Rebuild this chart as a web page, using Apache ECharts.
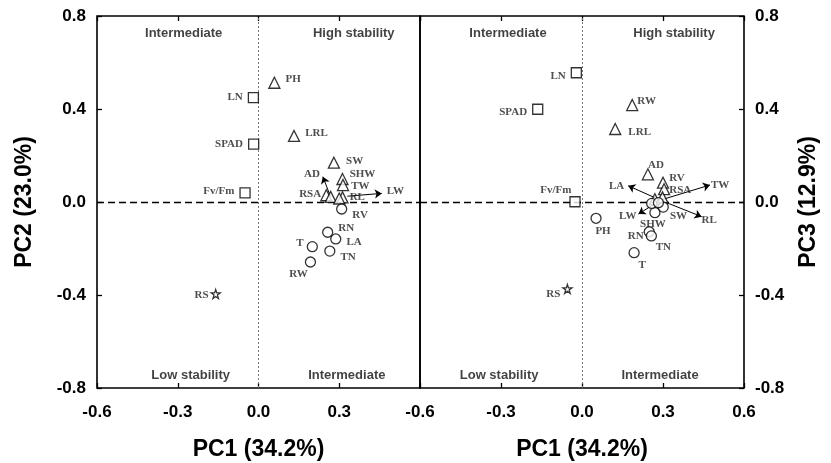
<!DOCTYPE html>
<html>
<head>
<meta charset="utf-8">
<script src="https://cdn.jsdelivr.net/npm/echarts@6/dist/echarts.min.js"></script>
<style>
  html, body { margin: 0; padding: 0; background: #fff; }
  #chart { width: 831px; height: 463px; }
</style>
</head>
<body>
<div id="chart"></div>
<script>
// Loadings: [name, PC1, PC2] for the left panel, [name, PC1, PC3] for the right panel
const pc12Squares   = [['LN', -0.019, 0.449], ['SPAD', -0.018, 0.249], ['Fv/Fm', -0.050, 0.039]];
const pc12Triangles = [['PH', 0.059, 0.513], ['LRL', 0.132, 0.284], ['SW', 0.280, 0.169], ['SHW', 0.312, 0.099],
                       ['TW', 0.314, 0.073], ['RSA', 0.252, 0.029], ['AD', 0.268, 0.022], ['RL', 0.312, 0.020],
                       ['LW', 0.300, 0.015]];
const pc12Circles   = [['RV', 0.309, -0.030], ['RN', 0.257, -0.130], ['LA', 0.287, -0.159], ['T', 0.200, -0.192],
                       ['TN', 0.265, -0.211], ['RW', 0.193, -0.258]];
const pc12Stars     = [['RS', -0.159, -0.396]];
// [name, fromX, fromY, toX, toY]
const pc12Arrows    = [['AD', 0.268, 0.022, 0.239, 0.109], ['LW', 0.330, 0.025, 0.458, 0.037]];

const pc13Squares   = [['LN', -0.021, 0.556], ['SPAD', -0.164, 0.399], ['Fv/Fm', -0.026, 0.001]];
const pc13Triangles = [['RW', 0.186, 0.417], ['LRL', 0.123, 0.314], ['AD', 0.244, 0.119], ['RV', 0.300, 0.083],
                       ['RSA', 0.304, 0.055], ['LA', 0.270, 0.012], ['TW', 0.298, 0.020]];
const pc13Circles   = [['PH', 0.052, -0.070], ['RN', 0.249, -0.128], ['TN', 0.257, -0.146], ['T', 0.193, -0.218],
                       ['SHW', 0.270, -0.046], ['SW', 0.301, -0.022], ['LW', 0.258, -0.006], ['RL', 0.283, -0.003]];
const pc13Stars     = [['RS', -0.054, -0.374]];
const pc13Arrows    = [['LA', 0.290, 0.008, 0.171, 0.070], ['TW', 0.290, 0.008, 0.474, 0.073],
                       ['LW', 0.290, 0.008, 0.209, -0.052], ['RL', 0.290, 0.008, 0.443, -0.063]];

// Quadrant captions: [text, x, y]
const pc12Quadrants = [['Intermediate', -0.278, 0.724], ['High stability', 0.354, 0.724],
                       ['Low stability', -0.252, -0.748], ['Intermediate', 0.328, -0.748]];
const pc13Quadrants = [['Intermediate', -0.274, 0.724], ['High stability', 0.341, 0.724],
                       ['Low stability', -0.307, -0.748], ['Intermediate', 0.289, -0.748]];

const xTicks = { min: -0.6, max: 0.6, interval: 0.3 };
const yTicks = { min: -0.8, max: 0.8, interval: 0.4 };
const xTitle = 'PC1 (34.2%)';
const yTitleLeft = 'PC2 (23.0%)';
const yTitleRight = 'PC3 (12.9%)';

// Label placement per panel: [position, offset]
const place12 = {
  'PH': ['right', [0, -4]], 'LN': ['left', [0, 0]], 'LRL': ['right', [0, -3]], 'SPAD': ['left', [0, 0]],
  'SW': ['right', [1, -2]], 'SHW': ['right', [-4, -5]], 'TW': ['right', [-3, 1]], 'Fv/Fm': ['left', [0, -2]],
  'RSA': ['left', [6, -1]], 'RL': ['right', [-4, 0]], 'RV': ['right', [0, 6]], 'RN': ['right', [0, -4]],
  'LA': ['right', [0, 3]], 'T': ['left', [2, -3]], 'TN': ['right', [0, 6]], 'RW': ['bottom', [-12, -4]],
  'RS': ['left', [3, 1]], 'AD': ['left', [2, -3]], 'LW': ['right', [0, -2]]
};
const place13 = {
  'LN': ['left', [0, 3]], 'SPAD': ['left', [0, 3]], 'RW': ['right', [-6, -4]], 'LRL': ['right', [2, 3]],
  'AD': ['top', [8, 7]], 'RV': ['right', [-5, -5]], 'RSA': ['right', [-6, 1]], 'Fv/Fm': ['left', [7, -12]],
  'PH': ['bottom', [7, -3]], 'SW': ['right', [-4, 9]], 'SHW': ['bottom', [-2, -5]], 'RN': ['left', [5, 4]],
  'TN': ['bottom', [12, -5]], 'T': ['bottom', [8, -4]], 'RS': ['left', [3, 5]],
  'LA': ['left', [1, 0]], 'TW': ['right', [-4, 0]], 'LW': ['left', [3, 2]], 'RL': ['right', [-5, 4]]
};

const STAR = 'path://M50,2 L61,36 L97,36 L68,57 L79,92 L50,71 L21,92 L32,57 L3,36 L39,36 Z';
const labelFont = { fontFamily: "'Liberation Serif', 'Times New Roman', serif", fontWeight: 'bold', fontSize: 11, color: '#222' };
const axisFont = { fontFamily: "'Liberation Sans', Arial, sans-serif", fontWeight: 'bold', color: '#000' };

function pointSeries(rows, symbol, size, axisIdx, place, arrowNames) {
  return {
    type: 'scatter',
    xAxisIndex: axisIdx.x, yAxisIndex: axisIdx.y,
    symbol: symbol, symbolSize: size,
    itemStyle: { color: '#fff', borderColor: '#000', borderWidth: 1.3 },
    z: 5,
    data: rows.map(r => {
      const p = place[r[0]] || ['right', [0, 0]];
      return {
        name: r[0], value: [r[1], r[2]],
        label: {
          show: arrowNames.indexOf(r[0]) < 0,
          formatter: r[0], position: p[0], offset: p[1], ...labelFont
        }
      };
    })
  };
}

function arrowSeries(rows, axisIdx, place) {
  return [{
    type: 'lines',
    coordinateSystem: 'cartesian2d',
    xAxisIndex: axisIdx.x, yAxisIndex: axisIdx.y,
    symbol: ['none', 'arrow'], symbolSize: [0, 7],
    lineStyle: { color: '#000', width: 1, opacity: 1 },
    z: 4,
    data: rows.map(r => ({ coords: [[r[1], r[2]], [r[3], r[4]]] }))
  }, {
    type: 'scatter',
    xAxisIndex: axisIdx.x, yAxisIndex: axisIdx.y,
    symbolSize: 0, silent: true, z: 6,
    data: rows.map(r => {
      const p = place[r[0]];
      return { value: [r[3], r[4]], label: { show: true, formatter: r[0], position: p[0], offset: p[1], ...labelFont } };
    })
  }];
}

function quadrantSeries(rows, axisIdx) {
  return {
    type: 'scatter',
    xAxisIndex: axisIdx.x, yAxisIndex: axisIdx.y,
    symbolSize: 0, silent: true,
    data: rows.map(r => ({
      value: [r[1], r[2]],
      label: { show: true, formatter: r[0], position: 'inside',
        fontFamily: "'Liberation Sans', Arial, sans-serif", fontWeight: 'bold', fontSize: 13, color: '#111' }
    }))
  };
}

function refLines(axisIdx) {
  return {
    type: 'scatter', xAxisIndex: axisIdx.x, yAxisIndex: axisIdx.y, data: [], silent: true,
    markLine: {
      silent: true, symbol: 'none', label: { show: false },
      data: [
        { yAxis: 0, lineStyle: { color: '#000', type: [7, 4], width: 1.4 } },
        { xAxis: 0, lineStyle: { color: '#777', type: [2, 2], width: 1 } }
      ]
    }
  };
}

function panel(sq, tri, cir, star, arrows, quads, axisIdx, place) {
  const arrowNames = arrows.map(a => a[0]);
  return [
    refLines(axisIdx),
    quadrantSeries(quads, axisIdx),
    ...arrowSeries(arrows, axisIdx, place),
    pointSeries(sq, 'rect', 10, axisIdx, place, arrowNames),
    pointSeries(tri, 'triangle', 11, axisIdx, place, arrowNames),
    pointSeries(cir, 'circle', 10, axisIdx, place, arrowNames),
    pointSeries(star, STAR, 9, axisIdx, place, arrowNames)
  ];
}

function xAxis(grid, pos, showLabels, showMax) {
  return {
    type: 'value', gridIndex: grid, position: pos, ...xTicks,
    axisLine: { show: false, onZero: false },
    axisTick: { show: true, inside: true, length: 5, lineStyle: { color: '#000', width: 1.3 } },
    axisLabel: { show: showLabels, showMaxLabel: showMax, margin: 16, fontSize: 17, ...axisFont,
      formatter: v => v.toFixed(1) },
    splitLine: { show: false },
    name: showLabels ? xTitle : '', nameLocation: 'middle', nameGap: 50,
    nameTextStyle: { fontSize: 23, ...axisFont }
  };
}

function yAxis(grid, pos, title, gap) {
  return {
    type: 'value', gridIndex: grid, position: pos, ...yTicks,
    axisLine: { show: false, onZero: false },
    axisTick: { show: true, inside: true, length: 5, lineStyle: { color: '#000', width: 1.3 } },
    axisLabel: { margin: 11, fontSize: 17, ...axisFont, formatter: v => v.toFixed(1) },
    splitLine: { show: false },
    name: title, nameLocation: 'middle', nameGap: gap,
    nameTextStyle: { fontSize: 23, ...axisFont }
  };
}

const chart = echarts.init(document.getElementById('chart'), null, { renderer: 'canvas' });
chart.setOption({
  backgroundColor: '#fff',
  animation: false,
  grid: [
    { left: 97, top: 16, width: 323, height: 372, show: true, borderColor: '#000', borderWidth: 1.6,
      containLabel: false, outerBoundsMode: 'none' },
    { left: 420, top: 16, width: 324, height: 372, show: true, borderColor: '#000', borderWidth: 1.6,
      containLabel: false, outerBoundsMode: 'none' }
  ],
  xAxis: [xAxis(0, 'bottom', true, false), xAxis(0, 'top', false, true),
          xAxis(1, 'bottom', true, true), xAxis(1, 'top', false, true)],
  yAxis: [yAxis(0, 'left', yTitleLeft, 61), yAxis(1, 'right', yTitleRight, 53)],
  series: [
    ...panel(pc12Squares, pc12Triangles, pc12Circles, pc12Stars, pc12Arrows, pc12Quadrants, { x: 0, y: 0 }, place12),
    ...panel(pc13Squares, pc13Triangles, pc13Circles, pc13Stars, pc13Arrows, pc13Quadrants, { x: 2, y: 1 }, place13)
  ]
});
</script>
</body>
</html>
